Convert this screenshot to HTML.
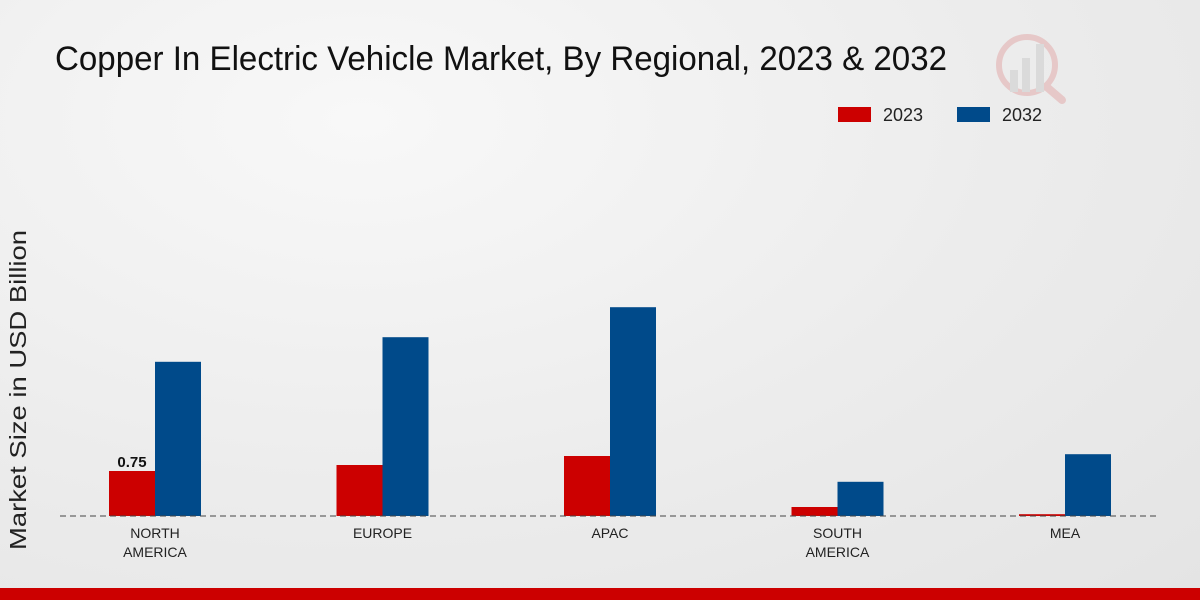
<!DOCTYPE html>
<html><head><meta charset="utf-8"><style>
body{margin:0;width:1200px;height:600px;overflow:hidden;font-family:"Liberation Sans","DejaVu Sans",sans-serif;}
#bg{position:absolute;left:0;top:0;width:1200px;height:600px;background:radial-gradient(ellipse at 30% 20%,#f8f8f8 0%,#ececec 55%,#e4e4e4 100%);}
</style></head><body>
<div id="bg"></div>
<svg id="chart" width="1200" height="600" style="position:absolute;left:0;top:0">
<text x="55" y="70" font-size="34" fill="#111" textLength="892" lengthAdjust="spacingAndGlyphs">Copper In Electric Vehicle Market, By Regional, 2023 &amp; 2032</text>
<g>
<rect x="838" y="107" width="33" height="15" fill="#cc0000"/>
<text x="883" y="121" font-size="18" fill="#222">2023</text>
<rect x="957" y="107" width="33" height="15" fill="#004a8a"/>
<text x="1002" y="121" font-size="18" fill="#222">2032</text>
</g>
<g opacity="0.35">
<circle cx="1027" cy="65" r="28" fill="none" stroke="#d88" stroke-width="6"/>
<rect x="1010" y="70" width="8" height="22" fill="#bbb"/><rect x="1022" y="58" width="8" height="34" fill="#bbb"/><rect x="1036" y="44" width="8" height="48" fill="#bbb"/>
<line x1="1048" y1="88" x2="1062" y2="100" stroke="#d88" stroke-width="8" stroke-linecap="round"/>
</g>
<text transform="translate(26,390) rotate(-90)" text-anchor="middle" font-size="23" fill="#222" textLength="320" lengthAdjust="spacingAndGlyphs">Market Size in USD Billion</text>
<g id="bars"></g>
<line x1="60" y1="516" x2="1160" y2="516" stroke="#444" stroke-width="1" stroke-dasharray="6,4"/>
<rect x="0" y="588" width="1200" height="12" fill="#cc0000"/>
</svg>
<script>
const categories=[["NORTH","AMERICA"],["EUROPE"],["APAC"],["SOUTH","AMERICA"],["MEA"]];
const values2023=[0.75,0.85,1.0,0.15,0.03];
const values2032=[2.57,2.98,3.48,0.57,1.03];
const labels2023=["0.75","","","",""];
const NS="http://www.w3.org/2000/svg";
const g=document.getElementById('bars');
const baseY=516, pxPerUnit=60, x0=155, step=227.5, bw=46;
function yScale(v){return baseY-v*pxPerUnit;}
function xCenter(i){return x0+i*step;}
function mk(t,a){const e=document.createElementNS(NS,t);for(const k in a)e.setAttribute(k,a[k]);g.appendChild(e);return e;}
categories.forEach((c,i)=>{
  const cx=xCenter(i);
  const r1=mk('rect',{x:cx-bw,y:yScale(values2023[i]),width:bw,height:baseY-yScale(values2023[i]),fill:'#cc0000'});
  
  
  const r2=mk('rect',{x:cx,y:yScale(values2032[i]),width:bw,height:baseY-yScale(values2032[i]),fill:'#004a8a'});
  
  
  if(labels2023[i]){
    const t=mk('text',{x:cx-bw/2,y:yScale(values2023[i])-4,'text-anchor':'middle','font-size':15,'font-weight':'bold',fill:'#111'});
    t.textContent=labels2023[i];
    
    
  }
  c.forEach((line,j)=>{
    const t=mk('text',{x:cx,y:538+j*19,'text-anchor':'middle','font-size':14,fill:'#222'});
    t.textContent=line;
    
    
  });
});
</script>
</body></html>
